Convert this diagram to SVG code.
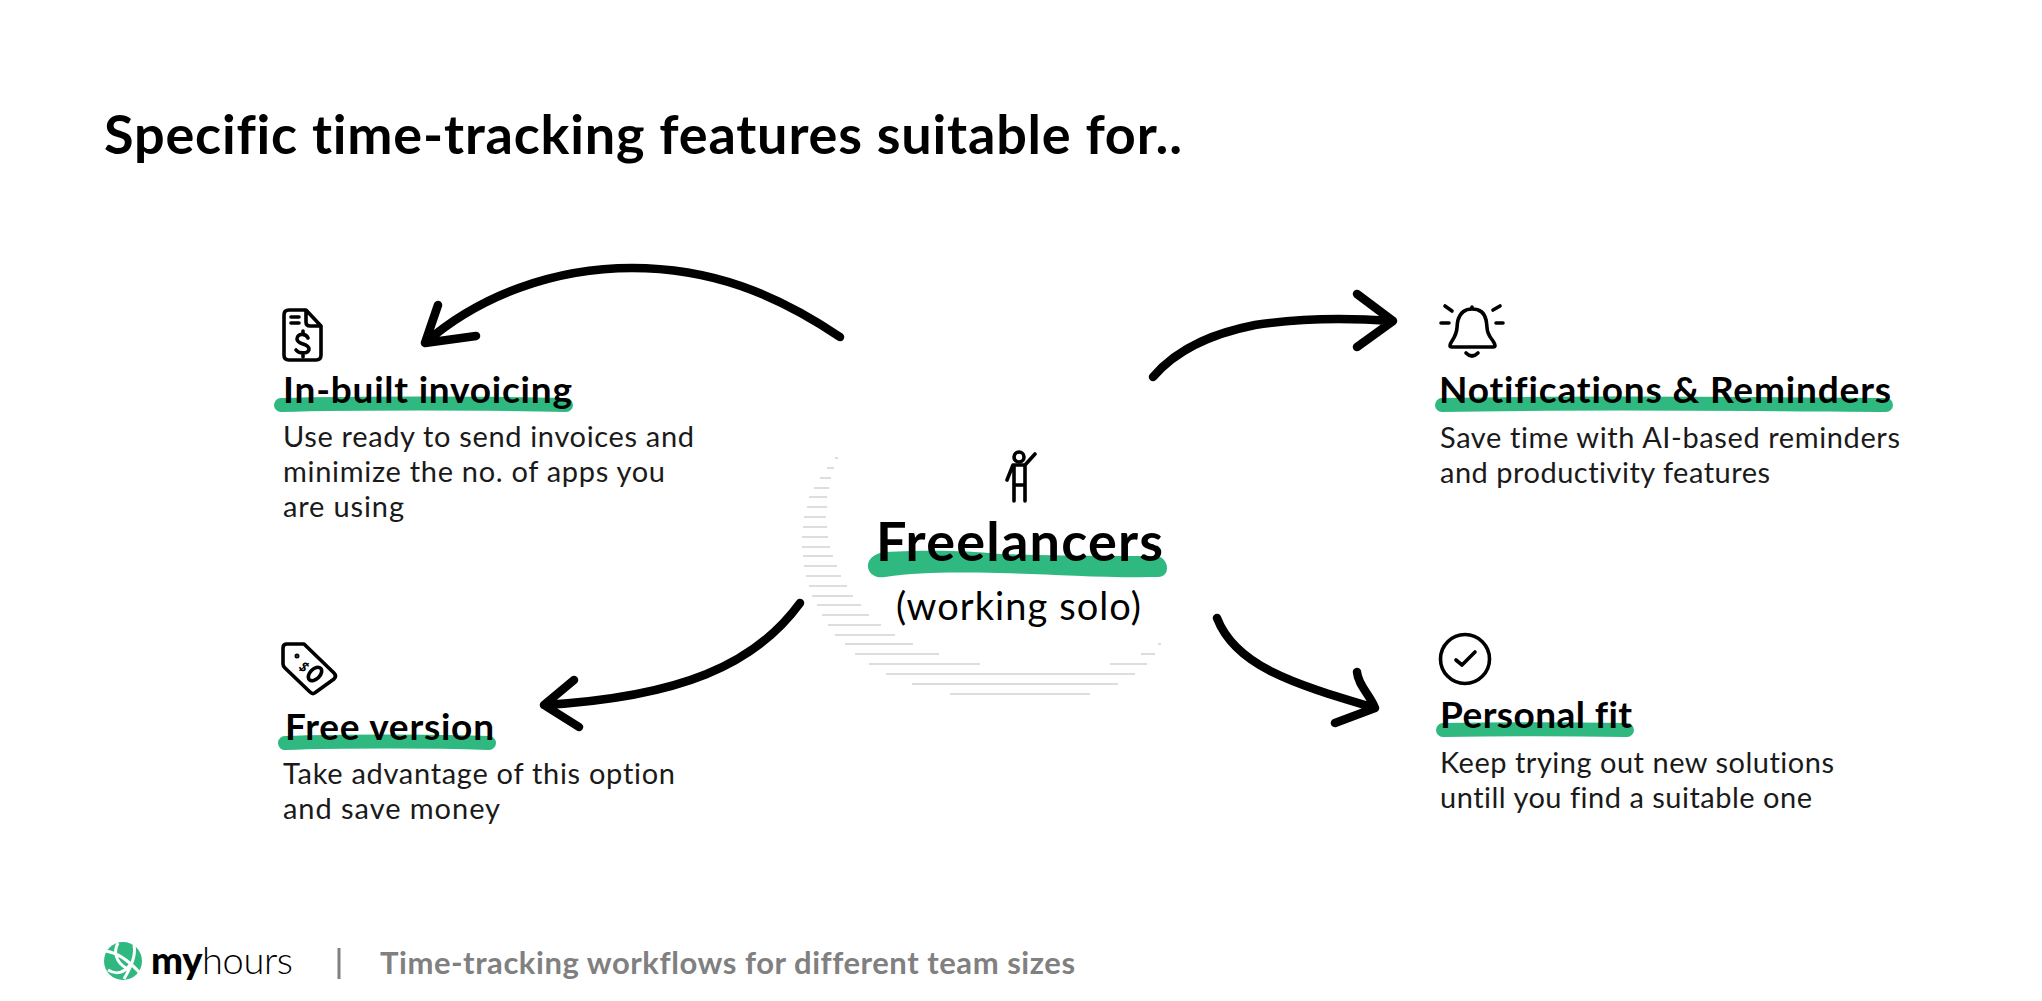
<svg xmlns="http://www.w3.org/2000/svg" width="2042" height="1001" viewBox="0 0 2042 1001">
<style>
text{font-family:"Lato","Open Sans","Liberation Sans",sans-serif;fill:#000;font-variant-ligatures:none}
.h{font-size:37px;font-weight:700}
.d{font-size:29px;font-weight:400;fill:#1a1a1a}
.u{fill:none;stroke:#2fb87f;stroke-width:14;stroke-linecap:round;stroke-linejoin:round}
.i{fill:none;stroke:#000;stroke-width:3.6;stroke-linecap:round;stroke-linejoin:round}
.a{fill:none;stroke:#000;stroke-width:8.5;stroke-linecap:round;stroke-linejoin:round}
.s{fill:none;stroke:#d2d2d2;stroke-width:1.6}
</style>
<rect width="2042" height="1001" fill="#fff"/>
<text id="title" x="104" y="154" font-size="54" font-weight="700" textLength="1078">Specific time-tracking features suitable for..</text>

<g id="connectors">
<path class="a" d="M840 337C775 293 710 268 632 268C555 268 480 295 425 343M438 305L425 343L476 336"/>
<path class="a" d="M800 603C755 665 680 697 544 705M574 680L544 705L579 727"/>
<path class="a" d="M1153 377C1180 345 1220 332 1255 325C1300 318 1350 318 1393 321M1357 294L1393 321L1357 347"/>
<path class="a" d="M1217 618C1235 665 1290 683 1375 708M1357 672C1358 685 1370 695 1375 708L1335 723"/>
</g>

<g id="node-freelancers">
<path class="s" d="M835 458h3M827 468h7M820 478h11M814 488h15M809 497h18M807 507h20M804 517h22M803 527h24M802 537h26M802 547h28M803 556h30M804 566h33M806 576h35M809 586h38M812 596h41M817 605h44M822 615h47M828 625h53M835 635h60M845 644h68M1158 644h3M855 654h84M1141 654h14M869 664h111M1110 664h37M886 674h249M912 684h206M950 694h140"/>
<path d="M884 552C930 550 960 550 1000 554C1060 556 1110 556 1158 556C1170 560 1170 577 1158 577C1100 578 1050 574 1000 573C950 572 920 572 885 577C865 580 860 556 884 552Z" fill="#2fb87f"/>
<text x="876" y="561" font-size="54" font-weight="700" textLength="287">Freelancers</text>
<text x="896" y="620" font-size="38" font-weight="400" textLength="245">(working solo)</text>
<g class="i"><circle cx="1019" cy="457" r="5"/><path d="M1035 454L1025 465V501M1013 465L1007 480M1013 465H1025M1014 465V501M1014 485H1025"/></g>
</g>

<g id="node-invoicing">
<path class="u" d="M281 405C350 403 490 403 566 405"/>
<text class="h" x="283" y="403" textLength="289">In-built invoicing</text>
<text class="d" x="283" y="447" textLength="411">Use ready to send invoices and</text>
<text class="d" x="283" y="482" textLength="382">minimize the no. of apps you</text>
<text class="d" x="283" y="517" textLength="121">are using</text>
<g class="i"><path d="M289 310H306L321 326V355Q321 360 316 360H289Q284 360 284 355V315Q284 310 289 310ZM306 310V322Q306 326 310 326H321M291 317H299M291 323H299"/><path d="M308 338C306 333 297 333 297 339C297 345 309 343 309 349C309 354 299 354 296 350M303 331V334M303 354V357"/></g>
</g>

<g id="node-version">
<path class="u" d="M285 743C340 741 430 741 489 743"/>
<text class="h" x="285" y="740" textLength="209">Free version</text>
<text class="d" x="283" y="784" textLength="392">Take advantage of this option</text>
<text class="d" x="283" y="819" textLength="217">and save money</text>
<g class="i"><path d="M287 644H304L334 673Q337 676 334 679L316 692Q313 695 310 692L285 668Q283 666 283 664V648Q283 644 287 644Z"/><circle cx="297" cy="656" r="1" stroke-width="3"/></g>
<text x="0" y="0" font-size="13" font-weight="900" transform="translate(298 667.5) rotate(45)">$</text>
<ellipse cx="315" cy="674" rx="5" ry="8" transform="rotate(45 315 674)" fill="none" stroke="#000" stroke-width="3.6"/>
</g>

<g id="node-notifications">
<path class="u" d="M1442 405C1580 402 1750 404 1886 405"/>
<text class="h" x="1439" y="403" textLength="452">Notifications &amp; Reminders</text>
<text class="d" x="1440" y="448" textLength="460">Save time with AI-based reminders</text>
<text class="d" x="1440" y="483" textLength="330">and productivity features</text>
<g class="i"><path d="M1452 347Q1448 347 1452 341C1459 331 1456 328 1458 320C1461 310 1468 309 1472 309C1476 309 1484 310 1486 320C1488 328 1485 331 1493 341Q1497 347 1493 347ZM1472 309V307M1466 353Q1472 359 1478 353M1445 306L1452 311M1500 306L1493 310M1441 323H1449M1496 323H1503"/></g>
</g>

<g id="node-personal">
<path class="u" d="M1443 730C1500 729 1570 729 1627 730"/>
<text class="h" x="1440" y="728" textLength="192">Personal fit</text>
<text class="d" x="1440" y="773" textLength="394">Keep trying out new solutions</text>
<text class="d" x="1440" y="808" textLength="372">untill you find a suitable one</text>
<g class="i"><circle cx="1465" cy="659" r="24.5"/><path d="M1456 660L1462 665L1475 652"/></g>
</g>

<g id="footer">
<circle cx="123" cy="961" r="19" fill="#2fb87f"/>
<path d="M106 951C118 953 130 962 139 972M118 943C113 952 116 962 126 968M134 945C136 955 132 965 124 979M108 970C116 975 124 973 130 965" fill="none" stroke="#fff" stroke-width="3"/>
<text x="151" y="974" font-size="38" textLength="142"><tspan font-weight="900">my</tspan><tspan font-weight="300">hours</tspan></text>
<path d="M339 948V979" stroke="#808080" stroke-width="3"/>
<text x="380" y="974" font-size="31" font-weight="700" style="fill:#808080" textLength="695">Time-tracking workflows for different team sizes</text>
</g>
</svg>
